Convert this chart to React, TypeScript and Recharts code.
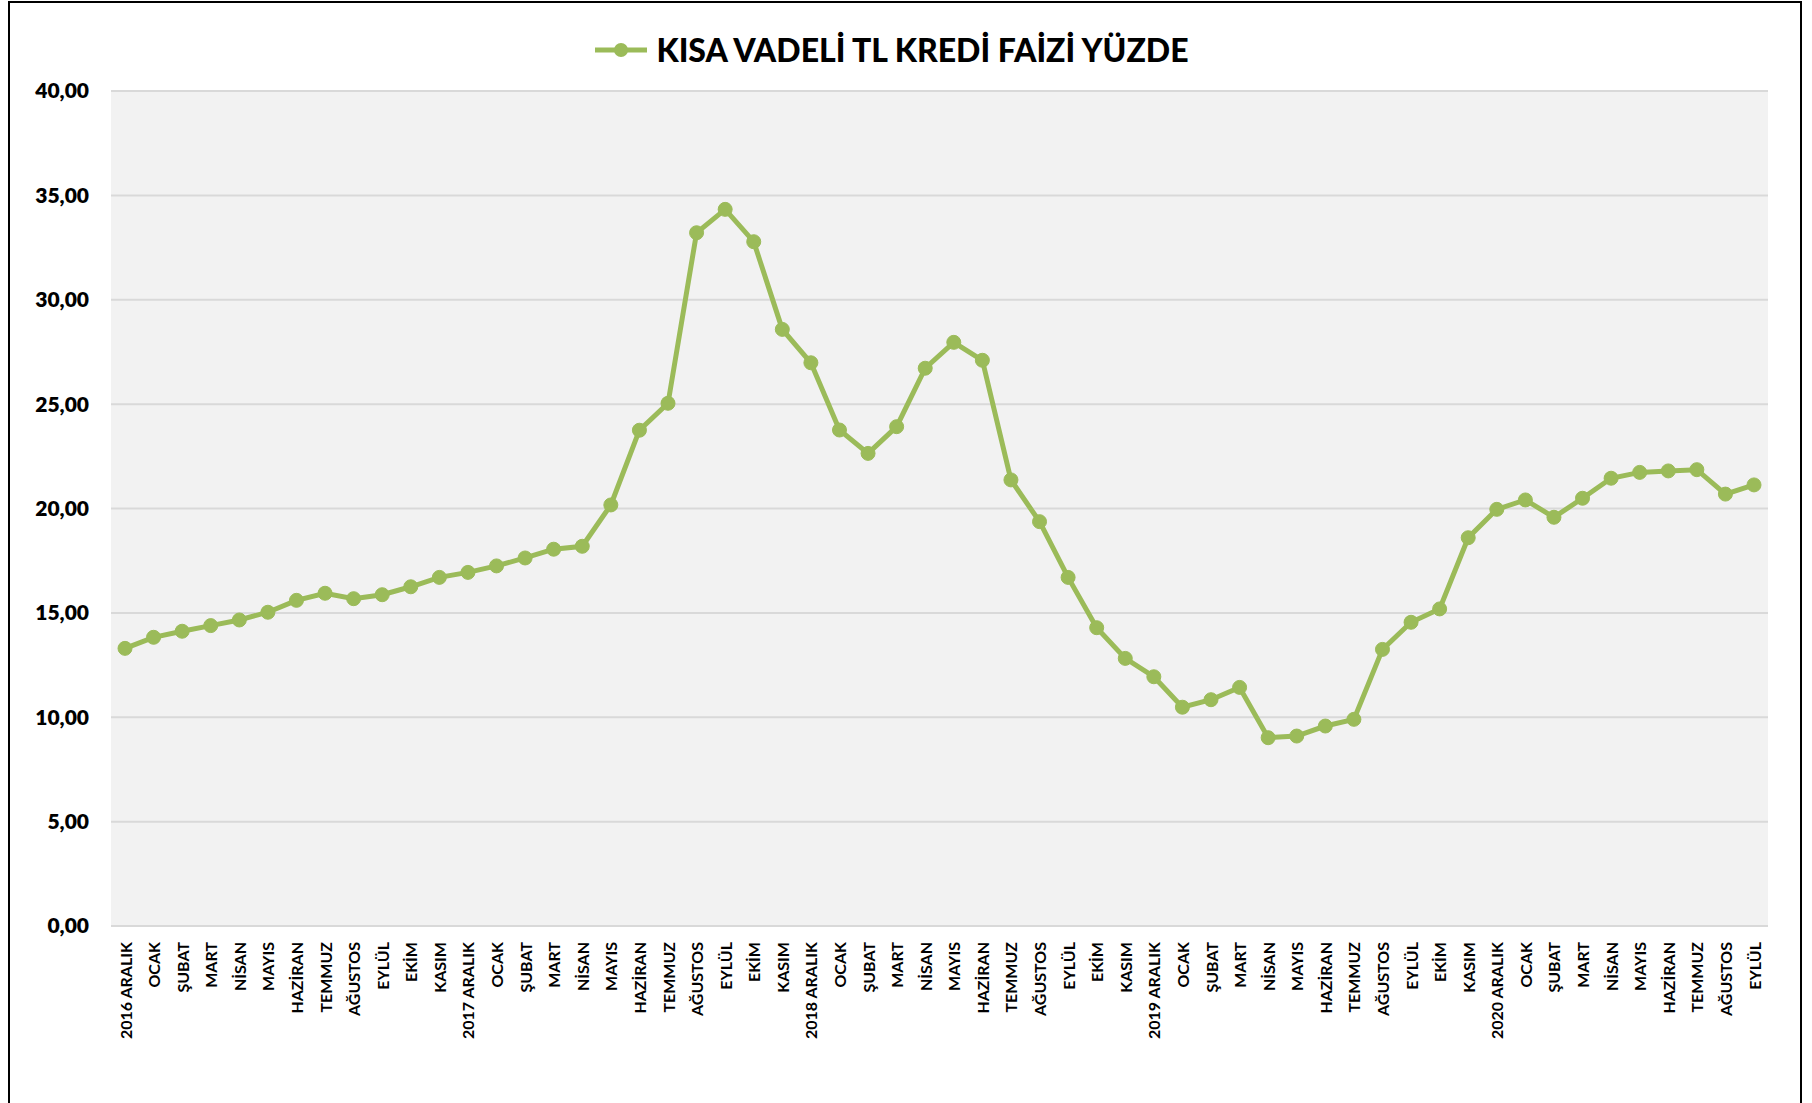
import React from 'react';
import { LineChart, Line, XAxis, YAxis, CartesianGrid } from 'recharts';

// Aylık kısa vadeli TL kredi faizi (%)
const months = [
  '2016 ARALIK', 'OCAK', 'ŞUBAT', 'MART', 'NİSAN', 'MAYIS', 'HAZİRAN', 'TEMMUZ', 'AĞUSTOS', 'EYLÜL', 'EKİM', 'KASIM',
  '2017 ARALIK', 'OCAK', 'ŞUBAT', 'MART', 'NİSAN', 'MAYIS', 'HAZİRAN', 'TEMMUZ', 'AĞUSTOS', 'EYLÜL', 'EKİM', 'KASIM',
  '2018 ARALIK', 'OCAK', 'ŞUBAT', 'MART', 'NİSAN', 'MAYIS', 'HAZİRAN', 'TEMMUZ', 'AĞUSTOS', 'EYLÜL', 'EKİM', 'KASIM',
  '2019 ARALIK', 'OCAK', 'ŞUBAT', 'MART', 'NİSAN', 'MAYIS', 'HAZİRAN', 'TEMMUZ', 'AĞUSTOS', 'EYLÜL', 'EKİM', 'KASIM',
  '2020 ARALIK', 'OCAK', 'ŞUBAT', 'MART', 'NİSAN', 'MAYIS', 'HAZİRAN', 'TEMMUZ', 'AĞUSTOS', 'EYLÜL',
];

const rates = [
  13.30, 13.83, 14.12, 14.39, 14.66, 15.03, 15.60, 15.94, 15.68, 15.87, 16.25, 16.70,
  16.94, 17.25, 17.63, 18.05, 18.19, 20.17, 23.75, 25.04, 33.21, 34.33, 32.78, 28.58,
  26.98, 23.76, 22.64, 23.92, 26.72, 27.96, 27.10, 21.37, 19.37, 16.70, 14.29, 12.82,
  11.94, 10.48, 10.84, 11.43, 9.02, 9.10, 9.58, 9.90, 13.25, 14.55, 15.19, 18.60,
  19.96, 20.41, 19.58, 20.49, 21.45, 21.73, 21.80, 21.86, 20.69, 21.13,
];

const yTicks = [0, 5, 10, 15, 20, 25, 30, 35, 40];

const seriesName = 'KISA VADELİ TL KREDİ FAİZİ YÜZDE';
const GREEN = '#9bbb59';
const FONT = 'Lato, "Open Sans", sans-serif';

const data = months.map((m, i) => ({ month: m, rate: rates[i] }));

const MonthTick = ({ x, y, payload }: any) => (
  <text
    x={x}
    y={y}
    transform={`rotate(-90, ${x}, ${y})`}
    textAnchor="end"
    dominantBaseline="central"
    fontFamily={FONT}
    fontWeight={700}
    fontSize={16}
    fill="#000"
  >
    {payload.value}
  </text>
);

export default function App() {
  return (
    <div style={{ position: 'absolute', left: 0, top: 0, width: 1812, height: 1103, background: '#fff', overflow: 'hidden' }}>
      {/* çerçeve */}
      <div
        style={{
          position: 'absolute',
          left: 8,
          top: 1,
          width: 1790,
          height: 1140,
          border: '2px solid #000',
        }}
      />

      {/* başlık / lejant */}
      <div
        style={{
          position: 'absolute',
          left: -14,
          top: 30,
          width: 1812,
          display: 'flex',
          justifyContent: 'center',
          alignItems: 'center',
          fontFamily: FONT,
          fontWeight: 900,
          fontSize: 32,
          color: '#000',
        }}
      >
        <svg width={52} height={20} style={{ marginRight: 9 }}>
          <line x1={0} y1={10} x2={52} y2={10} stroke={GREEN} strokeWidth={5} />
          <circle cx={26} cy={10} r={7} fill={GREEN} />
        </svg>
        <span>{seriesName}</span>
      </div>

      <div style={{ position: 'absolute', left: 0, top: 0 }}>
        <LineChart width={1812} height={1103} data={data} margin={{ top: 91, right: 44, bottom: 0, left: 0 }}>
          <CartesianGrid horizontal vertical={false} fill="#f2f2f2" stroke="#d9d9d9" strokeWidth={2} />
          <XAxis
            dataKey="month"
            interval={0}
            height={177}
            padding={{ left: 14, right: 14 }}
            axisLine={false}
            tickLine={false}
            tickSize={0}
            tickMargin={16}
            tick={<MonthTick />}
          />
          <YAxis
            domain={[0, 40]}
            ticks={yTicks}
            width={111}
            axisLine={false}
            tickLine={false}
            tickSize={0}
            tickMargin={22}
            tick={{ fontFamily: FONT, fontWeight: 800, fontSize: 21, fill: '#000' }}
            tickFormatter={(v: number) => v.toFixed(2).replace('.', ',')}
          />
          <Line
            type="linear"
            dataKey="rate"
            name={seriesName}
            stroke={GREEN}
            strokeWidth={5}
            dot={{ r: 7, fill: GREEN, stroke: GREEN, strokeWidth: 1 }}
            activeDot={false}
            isAnimationActive={false}
          />
        </LineChart>
      </div>
    </div>
  );
}
